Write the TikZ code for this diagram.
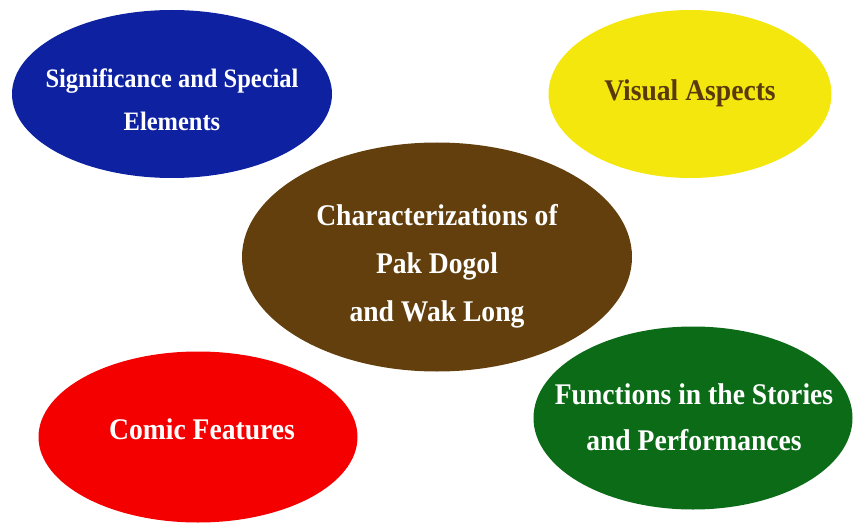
\documentclass[tikz,border=0pt]{standalone}
\usepackage{fontspec}
\setmainfont[FakeStretch=0.92]{Liberation Serif}
\usetikzlibrary{shapes.geometric}
\definecolor{blobblue}{HTML}{0E22A1}
\definecolor{blobyellow}{HTML}{F3E70E}
\definecolor{blobbrown}{HTML}{623F0C}
\definecolor{blobred}{HTML}{F40000}
\definecolor{blobgreen}{HTML}{0C6B17}
\definecolor{darktext}{HTML}{5A3A0B}
\begin{document}
\begin{tikzpicture}[x=1pt,y=-1pt,
  blob/.style={ellipse, draw=none, inner sep=0pt},
  lbl/.style={align=center, text=white,
    font=\fontsize{30}{46}\selectfont\bfseries}]
  \useasboundingbox (0,0) rectangle (854,524);
  % the five coloured ellipses
  \node[blob, fill=blobblue,   minimum width=320, minimum height=168] (sig) at (172,94) {};
  \node[blob, fill=blobyellow, minimum width=283, minimum height=168] (vis) at (690,94) {};
  \node[blob, fill=blobbrown,  minimum width=390, minimum height=229] (cha) at (437,257) {};
  \node[blob, fill=blobred,    minimum width=319, minimum height=171] (com) at (198,437) {};
  \node[blob, fill=blobgreen,  minimum width=319, minimum height=183] (fun) at (693,418) {};
  % their labels
  \node[lbl, font=\fontsize{26.6}{43}\selectfont\bfseries] (sigt) at ([yshift=-6]sig.center) {Significance and Special\\Elements};
  \node[lbl, text=darktext] (vist) at ([yshift=1]vis.center) {Visual Aspects};
  \node[lbl, font=\fontsize{30}{48}\selectfont\bfseries] (chat) at ([yshift=-9]cha.center) {Characterizations of\\Pak Dogol\\and Wak Long};
  \node[lbl] (comt) at ([xshift=4,yshift=8]com.center) {Comic Features};
  \node[lbl] (funt) at ([xshift=1,yshift=1]fun.center) {Functions in the Stories\\and Performances};
\end{tikzpicture}
\end{document}
